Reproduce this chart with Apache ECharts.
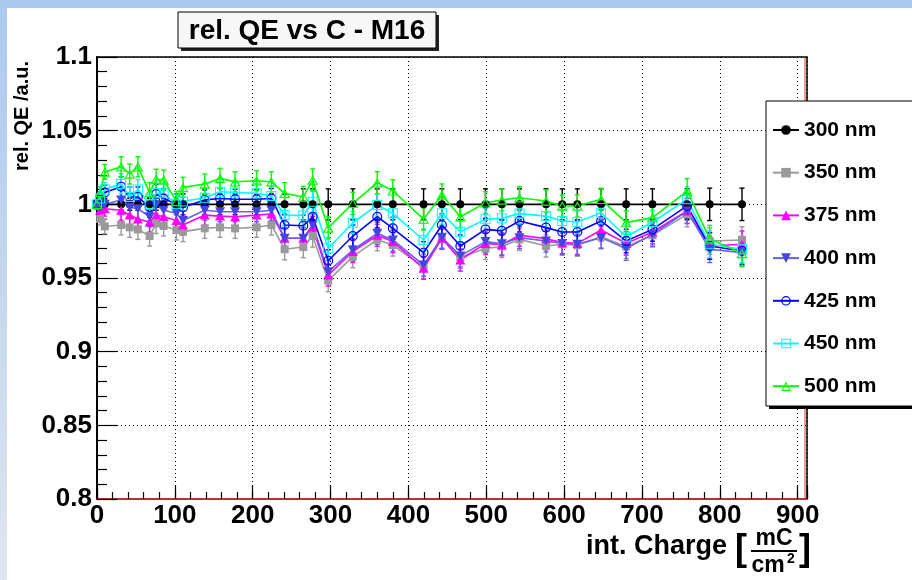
<!DOCTYPE html>
<html><head><meta charset="utf-8">
<script src="https://cdn.jsdelivr.net/npm/echarts@6/dist/echarts.min.js"></script>
<style>html,body{margin:0;padding:0;background:#fff}#c{width:912px;height:580px}</style>
</head><body><div id="c"></div>
<script>
// integrated charge [mC/cm^2]
const charge = [0, 4, 10, 31, 42, 52.5, 67.6, 76, 85.6, 102, 110.5, 138.4, 158, 177.4, 205, 224, 241, 265, 277, 297,
  328.6, 360, 380, 419.5, 443, 466.7, 499, 520, 542.7, 576.8, 597.6, 617, 647.5, 679.7, 713.5, 758, 787, 828.5];
const qe300 = charge.map(() => 1.0);
const qe350 = [1.0, 0.99, 0.985, 0.986, 0.9844, 0.983, 0.9785, 0.987, 0.9853, 0.9826, 0.9815, 0.9837, 0.9844, 0.9837, 0.9844, 0.986, 0.9695, 0.971, 0.9785, 0.9482,
  0.9645, 0.976, 0.9724, 0.9573, 0.9776, 0.964, 0.970, 0.9714, 0.9762, 0.9717, 0.9729, 0.9722, 0.978, 0.9713, 0.979, 0.9932, 0.9751, 0.9758];
const qe375 = [1.0, 0.996, 0.997, 0.996, 0.9927, 0.990, 0.988, 0.9927, 0.9916, 0.989, 0.986, 0.9927, 0.992, 0.9916, 0.9927, 0.9934, 0.977, 0.977, 0.9844, 0.952,
  0.968, 0.979, 0.9747, 0.9566, 0.977, 0.9622, 0.9735, 0.9726, 0.979, 0.9767, 0.974, 0.9735, 0.9826, 0.9735, 0.9812, 0.9955, 0.9717, 0.9729];
const qe400 = [1.0, 0.998, 1.0, 1.003, 0.998, 0.997, 0.9916, 0.9995, 0.996, 0.994, 0.989, 0.996, 0.995, 0.995, 0.995, 0.996, 0.977, 0.977, 0.986, 0.9543,
  0.969, 0.9803, 0.9758, 0.9588, 0.9776, 0.965, 0.9747, 0.9732, 0.9774, 0.9751, 0.9735, 0.9729, 0.9774, 0.970, 0.9796, 0.9955, 0.9695, 0.9672];
const qe425 = [1.0, 1.003, 1.008, 1.012, 1.005, 1.005, 0.998, 1.007, 1.004, 1.0, 0.998, 1.003, 1.004, 1.0034, 1.0034, 1.004, 0.986, 0.9855, 0.9916, 0.9617,
  0.9785, 0.9916, 0.9837, 0.9672, 0.986, 0.9717, 0.983, 0.982, 0.9887, 0.9842, 0.9812, 0.9812, 0.9887, 0.9751, 0.983, 0.9989, 0.9717, 0.9683];
const qe450 = [1.0, 1.004, 1.01, 1.014, 1.005, 1.01, 1.0, 1.0075, 1.0075, 1.0, 1.002, 1.0045, 1.0086, 1.008, 1.0075, 1.0056, 0.9927, 0.9925, 1.0018, 0.970,
  0.9875, 0.9995, 0.9939, 0.9758, 0.9939, 0.9814, 0.9898, 0.9905, 0.9937, 0.992, 0.9887, 0.988, 0.9943, 0.978, 0.988, 1.0034, 0.9729, 0.9695];
const qe500 = [1.0, 1.008, 1.022, 1.0255, 1.0206, 1.0255, 1.008, 1.017, 1.0165, 1.002, 1.0115, 1.0138, 1.0176, 1.0153, 1.016, 1.0153, 1.0075, 1.005, 1.0165, 0.984,
  1.0007, 1.0147, 1.0092, 0.990, 1.0063, 0.9916, 1.001, 1.003, 1.0045, 1.0023, 0.9989, 0.9989, 1.0034, 0.9876, 0.991, 1.009, 0.9767, 0.9667];
// uncertainties
const err300 = [0.002, 0.003, 0.004, 0.004, 0.004, 0.004, 0.004, 0.004, 0.004, 0.007, 0.007, 0.007, 0.007, 0.007, 0.007, 0.007, 0.007, 0.0105, 0.0105, 0.0105,
  0.0105, 0.0105, 0.0105, 0.0105, 0.0105, 0.0105, 0.0105, 0.0105, 0.0105, 0.0105, 0.0105, 0.0105, 0.0105, 0.0105, 0.0105, 0.0105, 0.011, 0.011];
const errCol = [0.003, 0.004, 0.005, 0.0068, 0.0068, 0.0068, 0.0068, 0.0068, 0.0068, 0.0068, 0.0068, 0.0068, 0.0068, 0.0068, 0.0068, 0.0068, 0.0072, 0.0072, 0.0075, 0.0075,
  0.0075, 0.0075, 0.0075, 0.0075, 0.0075, 0.0075, 0.0075, 0.0075, 0.0075, 0.0075, 0.0075, 0.0075, 0.0075, 0.008, 0.008, 0.0085, 0.009, 0.009];
const seriesNames = ['300 nm', '350 nm', '375 nm', '400 nm', '425 nm', '450 nm', '500 nm'];
const xTickLabels = ['0', '100', '200', '300', '400', '500', '600', '700', '800', '900'];
const yTickLabels = ['0.8', '0.85', '0.9', '0.95', '1', '1.05', '1.1'];

const FONT = 'Liberation Sans, Arial, Helvetica, sans-serif';
const ringCircle = 'path://M0,-10A10,10 0 1 1 0,10A10,10 0 1 1 0,-10Z M0,-7.6A7.6,7.6 0 1 0 0,7.6A7.6,7.6 0 1 0 0,-7.6Z';
const ringSquare = 'path://M-10,-10L10,-10L10,10L-10,10Z M-8,-8L-8,8L8,8L8,-8Z';
const ringTri = 'path://M0,-11.55L10,5.77L-10,5.77Z M0,-7.4L-6.4,3.7L6.4,3.7Z';

const styles = [
  {vals: qe300, err: err300, color: '#000000', line: '#000000', symbol: 'circle', size: 8, rot: 0},
  {vals: qe350, err: errCol, color: '#9a9a9a', line: '#9a9a9a', symbol: 'rect', size: 8, rot: 0},
  {vals: qe375, err: errCol, color: '#ff00ff', line: '#ff00ff', symbol: 'triangle', size: [10, 9], rot: 0},
  {vals: qe400, err: errCol, color: '#4444e0', line: '#6262ea', symbol: 'triangle', size: [10, 9], rot: 180},
  {vals: qe425, err: errCol, color: '#0000ff', line: '#0000ff', symbol: ringCircle, size: 10, rot: 0},
  {vals: qe450, err: errCol, color: '#00ffff', line: '#00ffff', symbol: ringSquare, size: 10, rot: 0},
  {vals: qe500, err: errCol, color: '#00ff00', line: '#00ff00', symbol: ringTri, size: [11, 9.5], rot: 0}
];

function errSeries(s) {
  return {
    type: 'custom', silent: true, animation: false,
    data: charge.map((x, i) => [x, s.vals[i], s.err[i]]),
    encode: {x: 0, y: 1},
    renderItem: function (params, api) {
      const x = api.value(0), y = api.value(1), e = api.value(2);
      const t = api.coord([x, y + e]), b = api.coord([x, y - e]);
      const c = 2.5, st = {stroke: s.line, lineWidth: 1.4};
      return {type: 'group', children: [
        {type: 'line', shape: {x1: t[0], y1: t[1], x2: b[0], y2: b[1]}, style: st},
        {type: 'line', shape: {x1: t[0] - c, y1: t[1], x2: t[0] + c, y2: t[1]}, style: st},
        {type: 'line', shape: {x1: b[0] - c, y1: b[1], x2: b[0] + c, y2: b[1]}, style: st}
      ]};
    }
  };
}
function lineSeries(s, name) {
  return {
    type: 'line', name: name, animation: false, showAllSymbol: true,
    data: charge.map((x, i) => [x, s.vals[i]]),
    symbol: s.symbol, symbolSize: s.size, symbolRotate: s.rot,
    lineStyle: {color: s.line, width: 1.6},
    itemStyle: {color: s.color}
  };
}
const series = [];
styles.forEach((s, i) => { series.push(errSeries(s)); series.push(lineSeries(s, seriesNames[i])); });

const chart = echarts.init(document.getElementById('c'), null, {renderer: 'canvas'});
const dotted = {color: '#000', width: 1, type: [1, 3]};
chart.setOption({
  backgroundColor: '#ffffff',
  animation: false,
  grid: {left: 97, top: 57, right: 105, bottom: 81, show: true, borderColor: '#000', borderWidth: 1.5, backgroundColor: 'transparent'},
  xAxis: [
    {type: 'value', min: 0, max: 912, interval: 100,
      axisLine: {show: true, onZero: false, lineStyle: {color: '#e0352b', width: 1.5}},
      axisTick: {show: true, inside: true, length: 14, lineStyle: {color: '#000', width: 1.2}},
      axisLabel: {margin: 4, color: '#000', fontSize: 26, fontWeight: 'bold', fontFamily: FONT,
        formatter: v => { const k = Math.round(v / 100); return (Math.abs(v - k * 100) < 1e-6 && xTickLabels[k] !== undefined) ? xTickLabels[k] : ''; }},
      splitLine: {show: true, lineStyle: dotted}},
    {type: 'value', min: 0, max: 912, interval: 20, position: 'bottom',
      axisLine: {show: false}, axisLabel: {show: false}, splitLine: {show: false},
      axisTick: {show: true, inside: true, length: 7, lineStyle: {color: '#000', width: 1.2}}}
  ],
  yAxis: {type: 'value', min: 0.8, max: 1.1, interval: 0.05,
    axisLine: {show: true, onZero: false, lineStyle: {color: '#000', width: 2}},
    axisTick: {show: true, inside: true, length: 20, lineStyle: {color: '#000', width: 1.2}},
    minorTick: {show: true, splitNumber: 5, length: 10, lineStyle: {color: '#000', width: 1.2}},
    axisLabel: {margin: 5, color: '#000', fontSize: 26, fontWeight: 'bold', fontFamily: FONT,
      formatter: v => { const k = Math.round((v - 0.8) / 0.05); return yTickLabels[k] !== undefined ? yTickLabels[k] : ''; }},
    splitLine: {show: true, lineStyle: dotted},
    minorSplitLine: {show: false}},
  legend: {
    orient: 'vertical', left: 772, top: 119, padding: 0, itemWidth: 26, itemHeight: 12, itemGap: 20.7,
    selectedMode: false, data: seriesNames,
    textStyle: {fontSize: 21, fontWeight: 'bold', color: '#000', fontFamily: FONT, lineHeight: 22}
  },
  graphic: [
    {type: 'rect', z: -5, shape: {x: 0, y: 0, width: 912, height: 8}, style: {fill: '#abc9ee'}},
    {type: 'rect', z: -5, shape: {x: 0, y: 0, width: 7, height: 580},
      style: {fill: new echarts.graphic.LinearGradient(0, 0, 0, 1, [{offset: 0, color: '#abc9ee'}, {offset: 1, color: '#dfe6ef'}])}},
    {type: 'line', z: 1, shape: {x1: 805, y1: 57, x2: 805, y2: 499}, style: {stroke: '#e0352b', lineWidth: 1}},
    // title box
    {type: 'rect', z: 5, shape: {x: 181, y: 15, width: 258, height: 36}, style: {fill: '#222'}},
    {type: 'rect', z: 5, shape: {x: 178, y: 12, width: 258, height: 36}, style: {fill: '#f7f7f7', stroke: '#000', lineWidth: 1}},
    {type: 'text', z: 6, x: 307, y: 31, style: {text: 'rel. QE vs C - M16', font: 'bold 28px ' + FONT, fill: '#000', align: 'center', verticalAlign: 'middle'}},
    // legend box
    {type: 'rect', z: 3, shape: {x: 769, y: 104, width: 160, height: 305}, style: {fill: '#000'}},
    {type: 'rect', z: 3, shape: {x: 766, y: 101, width: 160, height: 305}, style: {fill: '#fff', stroke: '#000', lineWidth: 1}},
    // y axis title
    {type: 'text', z: 6, x: 22, y: 116, rotation: Math.PI / 2, style: {text: 'rel. QE /a.u.', font: 'bold 20px ' + FONT, fill: '#000', align: 'center', verticalAlign: 'middle'}},
    // x axis title
    {type: 'text', z: 6, x: 727, y: 547, style: {text: 'int. Charge', font: 'bold 27px ' + FONT, fill: '#000', align: 'right', verticalAlign: 'middle'}},
    {type: 'text', z: 6, x: 741, y: 550, style: {text: '[', font: 'bold 36px ' + FONT, fill: '#000', align: 'center', verticalAlign: 'middle'}},
    {type: 'text', z: 6, x: 774, y: 539, style: {text: 'mC', font: 'bold 23px ' + FONT, fill: '#000', align: 'center', verticalAlign: 'middle'}},
    {type: 'line', z: 6, shape: {x1: 751, y1: 551, x2: 797, y2: 551}, style: {stroke: '#000', lineWidth: 2}},
    {type: 'text', z: 6, x: 768, y: 566, style: {text: 'cm', font: 'bold 23px ' + FONT, fill: '#000', align: 'center', verticalAlign: 'middle'}},
    {type: 'text', z: 6, x: 787, y: 559, style: {text: '2', font: 'bold 14px ' + FONT, fill: '#000', align: 'left', verticalAlign: 'middle'}},
    {type: 'text', z: 6, x: 805, y: 550, style: {text: ']', font: 'bold 36px ' + FONT, fill: '#000', align: 'center', verticalAlign: 'middle'}}
  ],
  series: series
});
</script></body></html>
